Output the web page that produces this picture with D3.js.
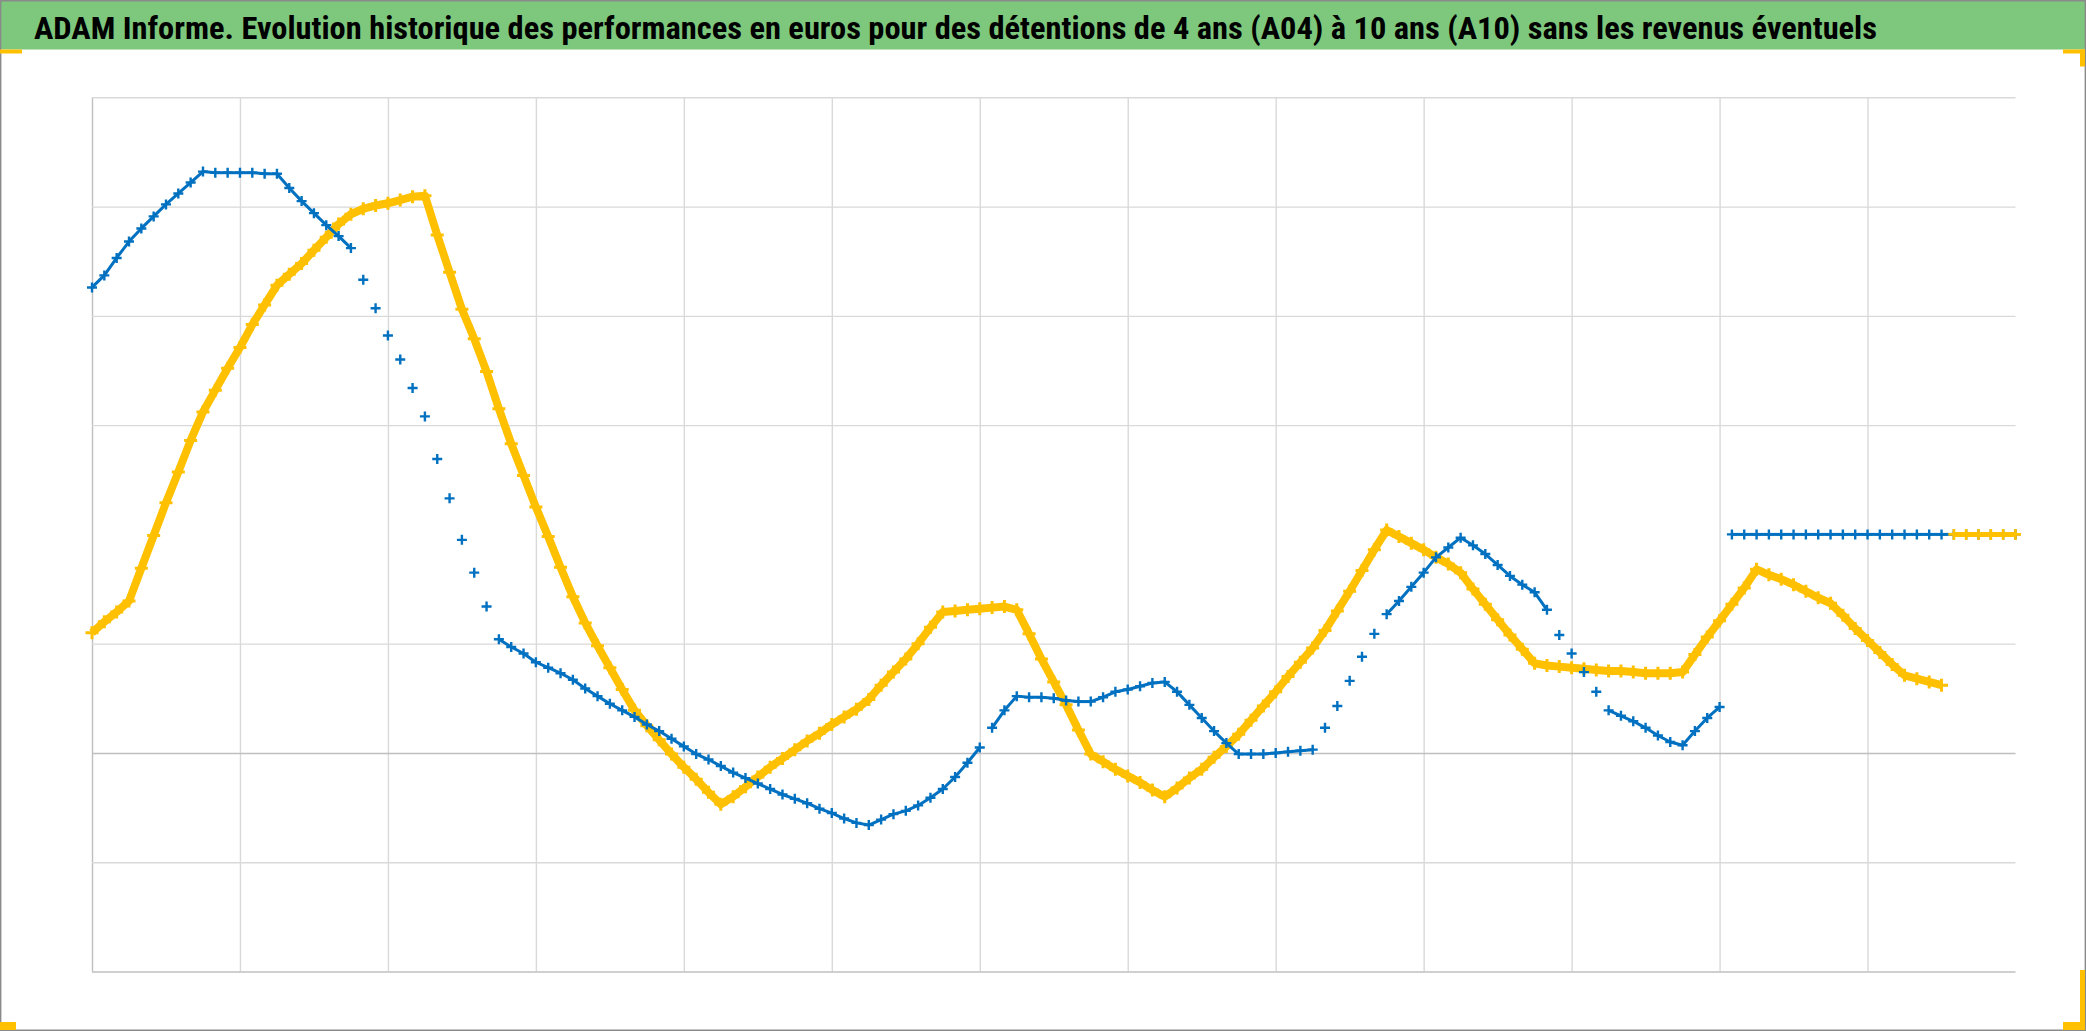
<!DOCTYPE html>
<html><head><meta charset="utf-8">
<script src="https://cdn.jsdelivr.net/npm/d3@7/dist/d3.min.js"></script>
<style>html,body{margin:0;padding:0;background:#fff;overflow:hidden}</style>
</head><body>
<svg id="c" width="2086" height="1031"></svg>
<script>
// ---- data ----
const titleText = "ADAM Informe. Evolution historique des performances en euros pour des détentions de 4 ans (A04) à 10 ans (A10) sans les revenus éventuels";
const yearTicks = [0,1,2,3,4,5,6,7,8,9,10,11,12];
const valueTicks = [-20,-10,0,10,30,40,50,60];
const seriesNames = ["A04","A10"];
// monthly readings (x = months from start)
const a04 = [
 42.6,43.7,45.3,46.8,48.0,49.1,50.2,51.2,52.2,53.2,
 53.1,53.1,53.1,53.1,53.0,53.0,51.7,50.5,49.4,48.3,
 47.3,46.2,43.3,40.7,38.2,36.0,33.4,30.8,26.9,23.3,
 19.5,16.5,13.4,10.4,9.7,9.1,8.3,7.8,7.3,6.7,
 5.9,5.2,4.5,3.9,3.3,2.6,2.0,1.3,0.6,-0.1,
 -0.6,-1.2,-1.8,-2.3,-2.8,-3.3,-3.8,-4.2,-4.6,-5.1,
 -5.5,-6.0,-6.4,-6.6,-6.1,-5.6,-5.3,-4.8,-4.1,-3.3,
 -2.2,-0.9,0.5,2.3,3.9,5.2,5.1,5.1,5.0,4.8,
 4.7,4.7,5.1,5.6,5.8,6.1,6.4,6.5,5.6,4.4,
 3.2,2.0,0.9,-0.1,-0.1,-0.1,0.0,0.1,0.2,0.3,
 2.3,4.3,6.6,8.8,10.9,12.7,13.9,15.2,16.5,17.9,
 18.8,19.7,19.0,18.2,17.2,16.2,15.4,14.7,13.1,10.8,
 9.1,7.4,5.6,3.9,3.4,2.9,2.3,1.6,1.0,0.7,
 2.0,3.2,4.2,
 20,20,20,20,20,20,20,20,20,20,20,20,20,20,20,20,20,20,20,20,20,20,20,20
];
const a10 = [
 11.0,12.0,12.9,13.9,16.9,19.9,22.9,25.7,28.6,31.2,
 33.2,35.2,37.1,39.2,41.0,42.8,43.8,44.8,46.0,47.2,
 48.4,49.3,49.8,50.1,50.3,50.6,50.9,51.0,47.4,44.0,
 40.6,37.9,34.9,31.5,28.3,25.4,22.5,19.8,17.0,14.3,
 11.9,9.8,7.8,5.8,3.9,2.5,1.2,-0.1,-1.3,-2.4,
 -3.6,-4.7,-4.0,-3.1,-2.2,-1.3,-0.5,0.3,1.1,1.8,
 2.6,3.3,4.0,4.9,6.2,7.4,8.6,10.0,11.5,12.9,
 13.0,13.1,13.2,13.3,13.4,13.1,10.9,8.6,6.5,4.4,
 2.1,-0.1,-0.8,-1.5,-2.1,-2.7,-3.4,-4.0,-3.2,-2.3,
 -1.5,-0.4,0.6,1.7,3.0,4.3,5.6,7.0,8.3,9.6,
 11.2,13.0,14.8,16.7,18.6,20.4,19.8,19.2,18.6,17.9,
 17.3,16.5,15.0,13.6,12.2,10.8,9.5,8.2,8.0,7.9,
 7.8,7.7,7.6,7.5,7.5,7.4,7.3,7.3,7.3,7.4,
 9.0,10.6,12.1,13.6,15.1,16.8,16.3,15.9,15.4,14.8,
 14.2,13.7,12.6,11.4,10.3,9.2,8.1,7.1,6.8,6.5,
 6.2,
 20,20,20,20,20,20
];

// ---- layout ----
const W = 2086, H = 1031;
const svg = d3.select("#c");
const x = d3.scaleLinear().domain([0, 13]).range([92, 2015.5]);
const y = d3.scaleLinear().domain([-20, 60]).range([971.5, 97.3]);
const colA04 = "#0070C0", colA10 = "#FFC000";

svg.append("rect").attr("width", W).attr("height", H).attr("fill", "#fff");

// title bar
svg.append("rect").attr("x", 0).attr("y", 0).attr("width", W).attr("height", 49.5).attr("fill", "#7DC87D");
svg.append("text").attr("x", 34).attr("y", 38.5)
  .attr("font-family", "'Liberation Sans Narrow','Roboto Condensed','DejaVu Sans Condensed','Liberation Sans',sans-serif")
  .attr("font-weight", "bold").attr("font-size", 32).attr("fill", "#000")
  .attr("textLength", 1843).attr("lengthAdjust", "spacingAndGlyphs")
  .text(titleText);

// grid via axes
const gx = svg.append("g").attr("transform", `translate(0,${y(-20)})`)
  .call(d3.axisBottom(x).tickValues(yearTicks).tickSize(-(y(-20) - y(60))).tickFormat(""));
gx.select(".domain").remove();
gx.selectAll(".tick line").attr("stroke", (d) => d === 0 ? "#BFBFBF" : "#D9D9D9").attr("stroke-width", 1.4);

const gy = svg.append("g").attr("transform", `translate(${x(0)},0)`)
  .call(d3.axisLeft(y).tickValues(valueTicks).tickSize(-(x(13) - x(0))).tickFormat(""));
gy.select(".domain").remove();
gy.selectAll(".tick line").attr("stroke", (d) => (d === 0 || d === -20) ? "#BFBFBF" : "#D9D9D9").attr("stroke-width", 1.4);

// series
const pts = (arr) => arr.map((v, i) => ({ t: i / 12, v, i }));
const plus = (r) => `M${-r},0H${r}M0,${-r}V${r}`;
const pA10 = pts(a10), pA04 = pts(a04);
const placeholder = (d) => d.v === 20 && d.i > 130;

// dense chains: connect neighbouring readings whose step is small on screen
function chainSegments(p, maxStep) {
  const segs = [];
  for (let k = 1; k < p.length; k++) {
    const a = p[k - 1], b = p[k];
    if (placeholder(a) !== placeholder(b)) continue;
    if (Math.abs(y(a.v) - y(b.v)) <= maxStep) segs.push([a, b]);
  }
  return segs;
}
const seg = d3.line().x(d => x(d.t)).y(d => y(d.v));

// A10 band
const line = d3.line().x(d => x(d.t)).y(d => y(d.v)).defined(d => !placeholder(d));
svg.append("path").datum(pA10).attr("d", line).attr("fill", "none")
  .attr("stroke", colA10).attr("stroke-width", 8).attr("stroke-linejoin", "round");
svg.append("g").selectAll("path").data(pA10.filter(d => !placeholder(d))).join("path")
  .attr("transform", d => `translate(${x(d.t)},${y(d.v)})`)
  .attr("d", plus(6.5)).attr("stroke", colA10).attr("stroke-width", 3).attr("fill", "none");

// A04 chain + markers
svg.append("g").selectAll("path").data(chainSegments(pA04, 18)).join("path")
  .attr("d", seg).attr("fill", "none").attr("stroke", colA04).attr("stroke-width", 3);
svg.append("g").selectAll("path").data(pA04).join("path")
  .attr("transform", d => `translate(${x(d.t)},${y(d.v)})`)
  .attr("d", plus(5)).attr("stroke", colA04).attr("stroke-width", 2.4).attr("fill", "none");

// A10 placeholder markers on top
const pA10flat = pA10.filter(placeholder);
svg.append("path").datum(pA10flat).attr("d", seg).attr("fill", "none")
  .attr("stroke", colA10).attr("stroke-width", 5);
svg.append("g").selectAll("path").data(pA10flat).join("path")
  .attr("transform", d => `translate(${x(d.t)},${y(d.v)})`)
  .attr("d", plus(5.5)).attr("stroke", colA10).attr("stroke-width", 2.6).attr("fill", "none");

// chart frame
const frame = (x1, y1, x2, y2) => svg.append("line").attr("x1", x1).attr("y1", y1).attr("x2", x2).attr("y2", y2)
  .attr("stroke", "#8a8a8a").attr("stroke-width", 1.4);
frame(0, 0.7, W, 0.7); frame(0.7, 0, 0.7, H); frame(W - 0.7, 0, W - 0.7, H); frame(0, H - 0.7, W, H - 0.7);

// selection corner handles
const hc = "#FFC000";
svg.append("rect").attr("x", 0).attr("y", 49.5).attr("width", 22).attr("height", 4).attr("fill", hc);
svg.append("rect").attr("x", 2063).attr("y", 49.5).attr("width", 22).attr("height", 4).attr("fill", hc);
svg.append("rect").attr("x", 2080).attr("y", 49.5).attr("width", 5).attr("height", 17).attr("fill", hc);
svg.append("rect").attr("x", 0).attr("y", 1022).attr("width", 16).attr("height", 8).attr("fill", hc);
svg.append("rect").attr("x", 2063).attr("y", 1022).attr("width", 22).attr("height", 8).attr("fill", hc);
svg.append("rect").attr("x", 2080).attr("y", 970).attr("width", 5).attr("height", 60).attr("fill", hc);
</script>
</body></html>
